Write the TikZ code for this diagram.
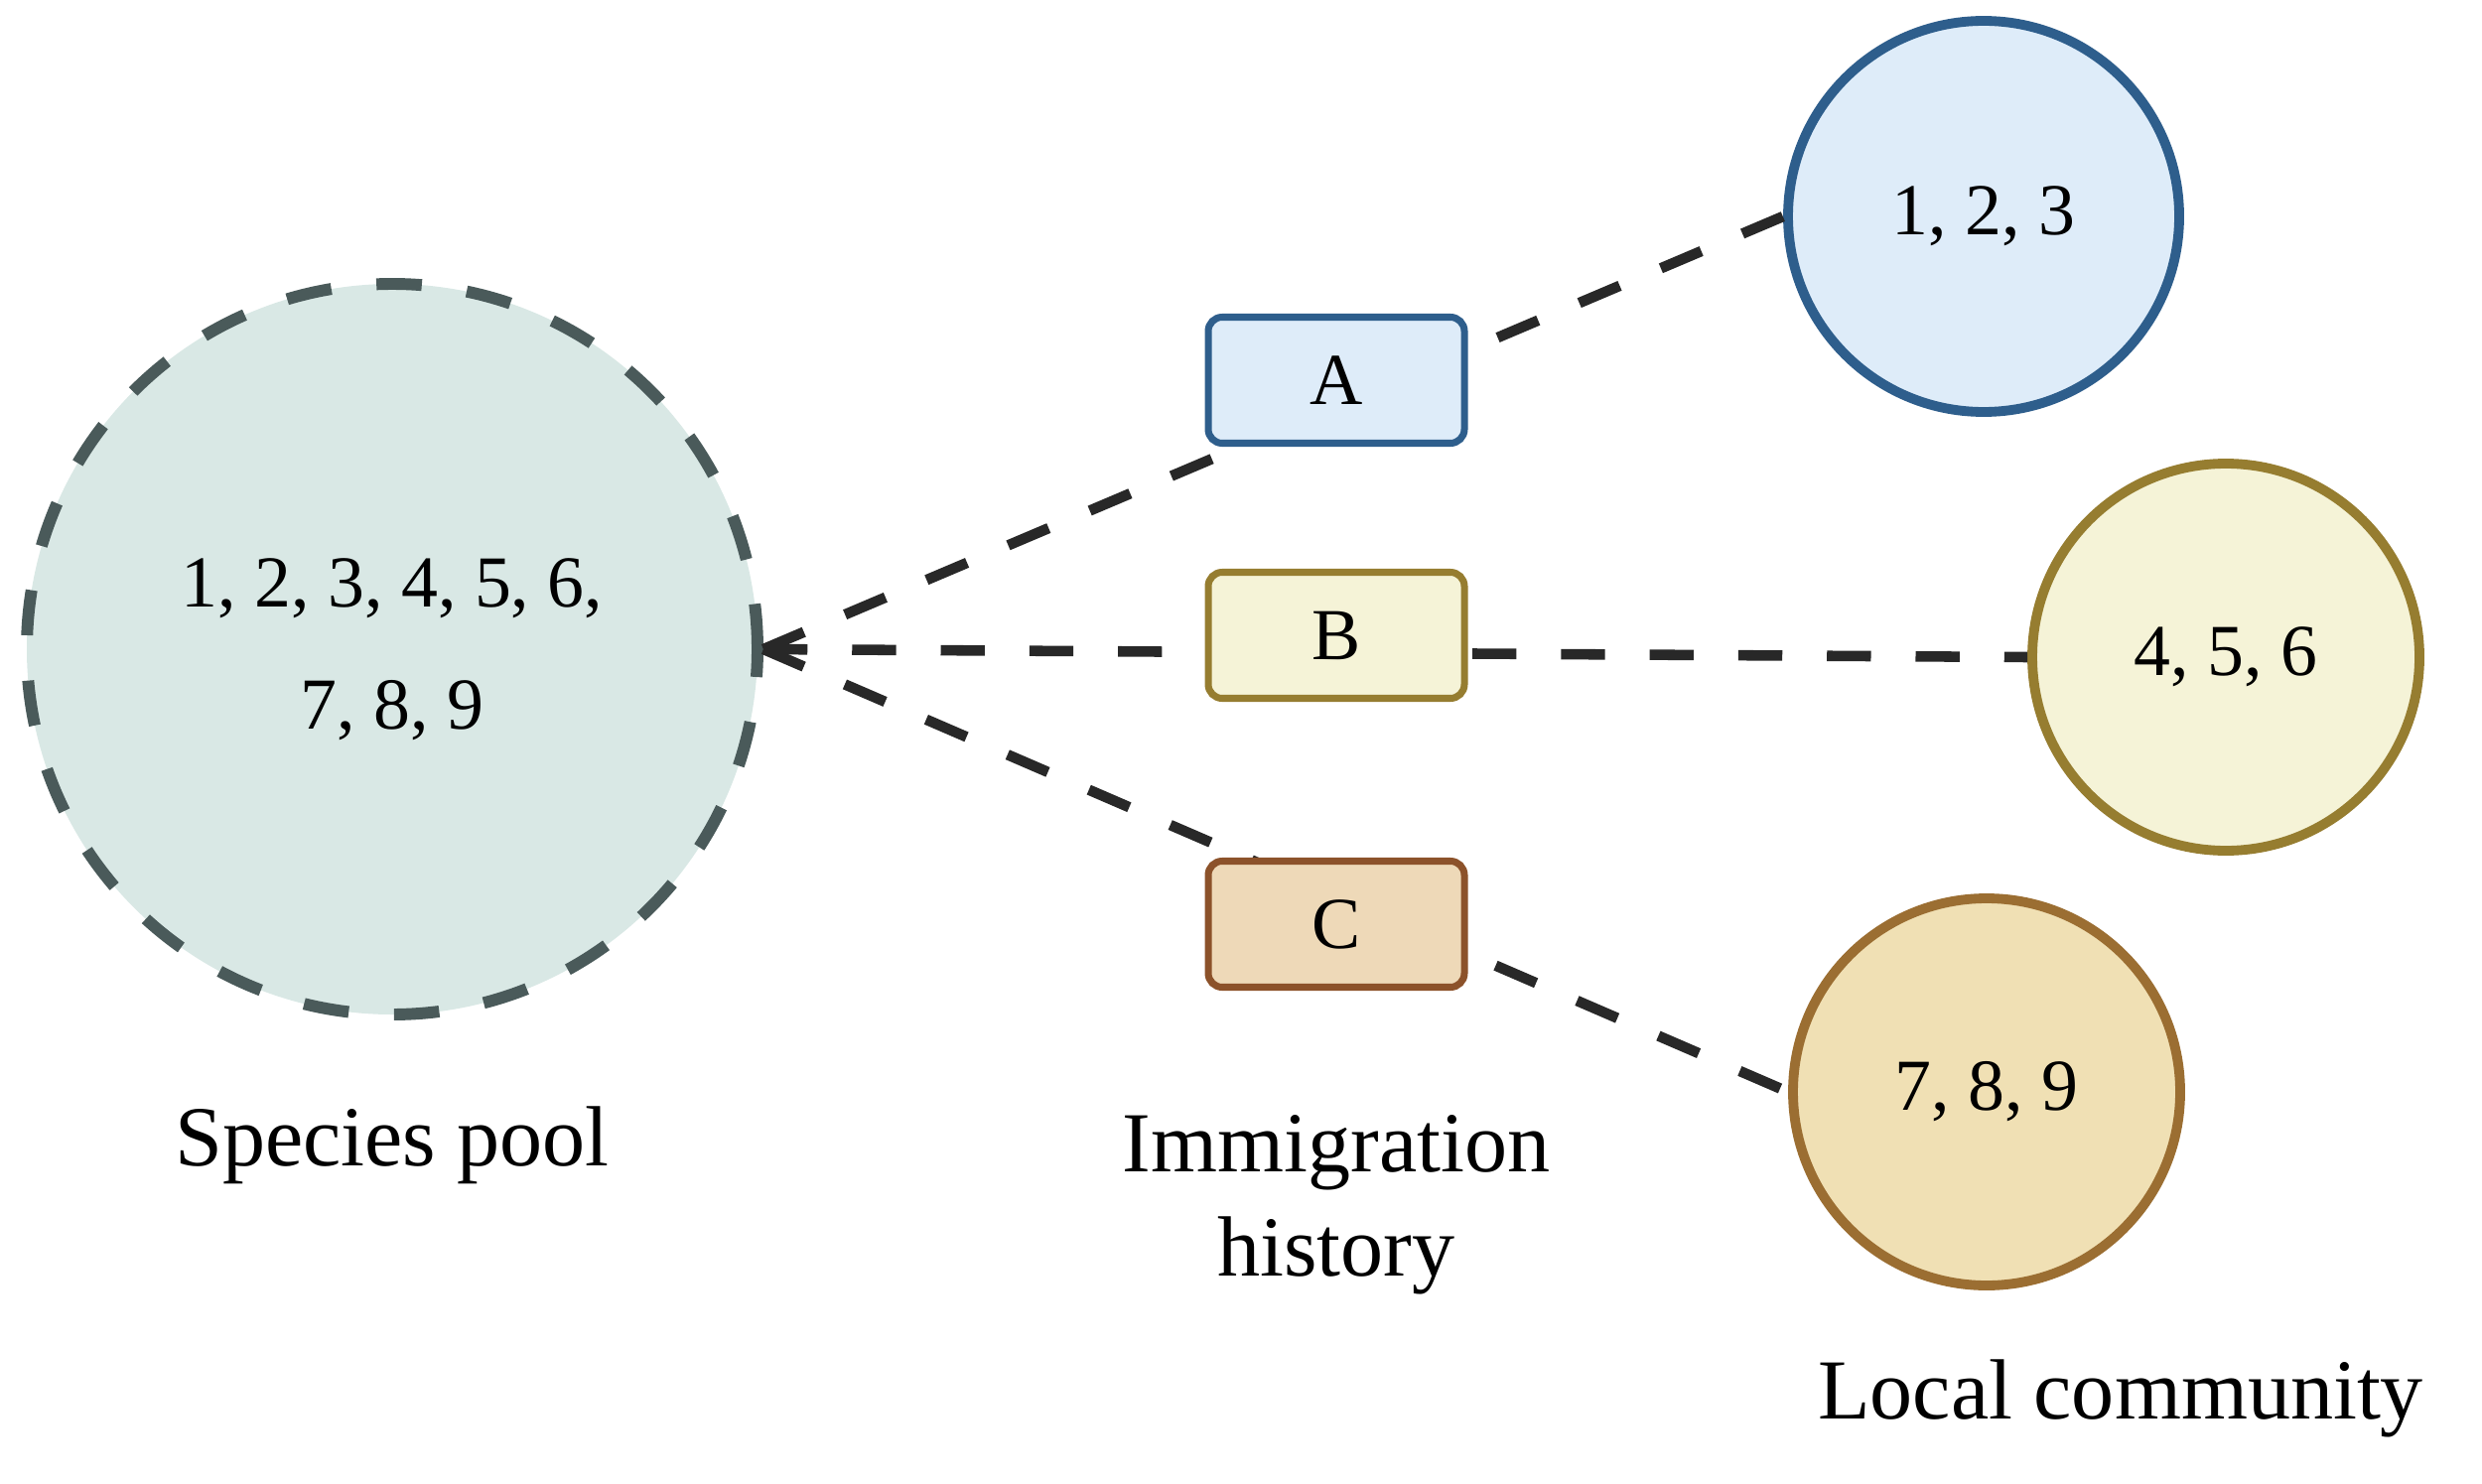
\documentclass[tikz,border=0pt]{standalone}
\usepackage{fontspec}
\usepackage{tikz}
\usepackage{xcolor}
\usetikzlibrary{positioning}
\setmainfont{Liberation Serif}
\definecolor{poolfill}{RGB}{217, 232, 229}
\definecolor{pooldraw}{RGB}{74, 90, 90}
\definecolor{afill}{RGB}{222, 236, 249}
\definecolor{adraw}{RGB}{46, 94, 140}
\definecolor{bfill}{RGB}{245, 243, 215}
\definecolor{bdraw}{RGB}{150, 125, 48}
\definecolor{cfill}{RGB}{238, 217, 184}
\definecolor{cdraw}{RGB}{140, 82, 42}
\definecolor{c3fill}{RGB}{240, 224, 180}
\definecolor{c3draw}{RGB}{155, 110, 50}
\definecolor{linkgray}{RGB}{40, 40, 40}

\begin{document}
\begin{tikzpicture}[
    numtext/.style={font=\fontsize{21}{35}\selectfont, align=center},
    caption/.style={font=\fontsize{24.5}{30}\selectfont, align=center},
    pool/.style={circle, fill=poolfill, draw=pooldraw, line width=3.4pt,
        dash pattern=on 13pt off 13pt, minimum size=7.36cm, inner sep=0pt},
    history/.style={rectangle, rounded corners=4pt, line width=2pt,
        fill=#1fill, draw=#1draw, minimum width=2.58cm, minimum height=1.27cm},
    community/.style={circle, line width=2.8pt, minimum size=#1, inner sep=0pt},
    link/.style={linkgray, line width=3pt, dash pattern=on 12.6pt off 12.8pt}
]
    \useasboundingbox (0, 0) rectangle (25, 14.94);

    % ==========================================
    % COORDINATES
    % ==========================================
    % Species pool
    \coordinate (pool_c) at (3.95, 8.40);

    % Immigration history boxes
    \coordinate (hist_a) at (13.46, 11.11);
    \coordinate (hist_b) at (13.46, 8.54);
    \coordinate (hist_c) at (13.46, 5.63);

    % Local communities
    \coordinate (comm_a) at (19.98, 12.76);
    \coordinate (comm_b) at (22.42, 8.32);
    \coordinate (comm_c) at (20.01, 3.94);


    % ==========================================
    % SPECIES POOL (dashed)
    % ==========================================
    \node[pool, numtext] (pool) at (pool_c) {1, 2, 3, 4, 5, 6,\\7, 8, 9};


    % ==========================================
    % LOCAL COMMUNITIES
    % ==========================================
    \node[community=3.94cm, fill=afill, draw=adraw, numtext] (comm1) at (comm_a) {1, 2, 3};
    \node[community=3.9cm, fill=bfill, draw=bdraw, numtext] (comm2) at (comm_b) {4, 5, 6};
    \node[community=3.9cm, fill=c3fill, draw=c3draw, numtext] (comm3) at (comm_c) {7, 8, 9};


    % ==========================================
    % CONNECTORS (behind the boxes)
    % ==========================================
    \draw[link] (pool.east) -- (comm1.west);
    \draw[link] (pool.east) -- (comm2.west);
    \draw[link] (pool.east) -- (comm3.west);


    % ==========================================
    % IMMIGRATION HISTORY BOXES
    % ==========================================
    \node[history=a, numtext] (boxA) at (hist_a) {A};
    \node[history=b, numtext] (boxB) at (hist_b) {B};
    \node[history=c, numtext] (boxC) at (hist_c) {C};


    % ==========================================
    % CAPTIONS
    % ==========================================
    \node[caption] (poolcap) at (3.95, 3.40) {Species pool};
    \node[caption] (histcap) at (13.46, 2.80) {Immigration\\history};
    \node[caption] (commcap) at (21.36, 0.85) {Local community};

\end{tikzpicture}
\end{document}
